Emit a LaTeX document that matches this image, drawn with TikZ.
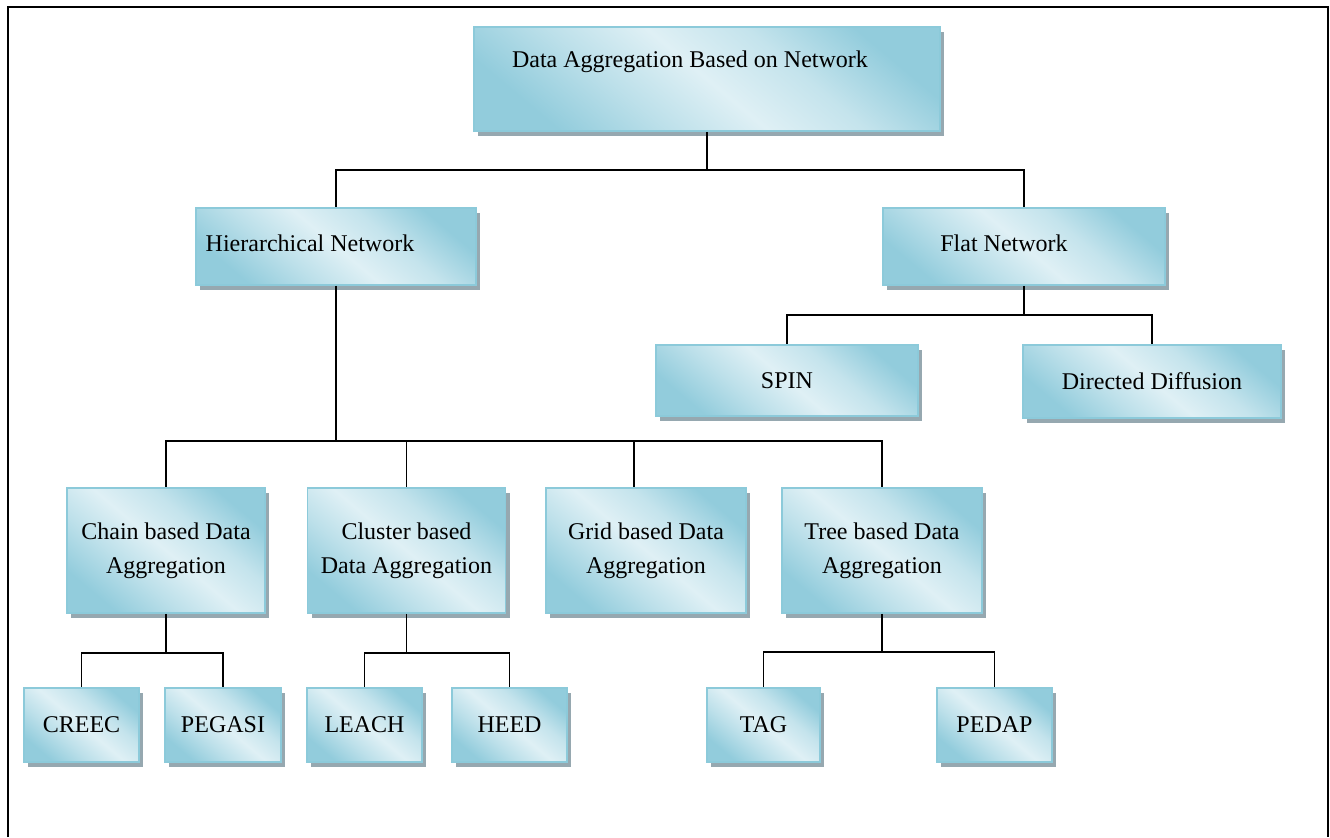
\documentclass[tikz,border=0pt]{standalone}
\usepackage{fontspec}
\setmainfont{Liberation Serif}
\usetikzlibrary{shadows}
\definecolor{boxdark}{RGB}{146,204,220}
\definecolor{boxlight}{RGB}{223,240,245}
\definecolor{boxedge}{RGB}{140,202,218}
\definecolor{shadowgray}{RGB}{150,168,176}
\pgfdeclareverticalshading{boxshade}{100bp}{color(0bp)=(boxdark); color(25bp)=(boxdark);
    color(38bp)=(boxdark!45!boxlight); color(50bp)=(boxlight); color(62bp)=(boxdark!35!boxlight);
    color(75bp)=(boxdark); color(100bp)=(boxdark)}
\tikzstyle{box}=[draw=boxedge, line width=0.8pt, inner sep=0,
                 shading=boxshade, shading angle=-40,
                 drop shadow={shadow xshift=2pt, shadow yshift=-2.6pt, fill=shadowgray, opacity=1},
                 align=center]
\tikzstyle{link}=[line width=0.8pt, black]
\begin{document}
\begin{tikzpicture}[x=0.5pt, y=-0.5pt, font=\fontsize{12}{17}\selectfont]
    \useasboundingbox (0,0) rectangle (1330,837);
    % outer frame
    \draw[line width=1pt] (8,837) -- (8,7) -- (1328,7) -- (1328,837);
    % top levels
    \node[box, minimum width=233pt, minimum height=52pt,
          label={[xshift=-8.5pt, yshift=8.5pt]center:Data Aggregation Based on Network}] (root) at (707,79) {};
    \node[box, minimum width=140pt, minimum height=38.5pt,
          label={[xshift=-13pt, yshift=1.5pt]center:Hierarchical Network}] (hier) at (336,246.5) {};
    \node[box, minimum width=141pt, minimum height=38.5pt,
          label={[xshift=-10pt, yshift=1.5pt]center:Flat Network}] (flat) at (1024,246.5) {};
    % flat network
    \node[box, minimum width=131pt, minimum height=35.5pt] (spin) at (787,380.5) {SPIN};
    \node[box, minimum width=129pt, minimum height=36.5pt] (diffusion) at (1152,381.5) {Directed Diffusion};
    % hierarchical network
    \node[box, minimum width=99pt, minimum height=62.5pt] (chain) at (166,550.5) {Chain based Data\\Aggregation};
    \node[box, minimum width=99pt, minimum height=62.5pt] (cluster) at (406.5,550.5) {Cluster based\\Data Aggregation};
    \node[box, minimum width=100pt, minimum height=62.5pt] (grid) at (646,550.5) {Grid based Data\\Aggregation};
    \node[box, minimum width=100pt, minimum height=62.5pt] (tree) at (882,550.5) {Tree based Data\\Aggregation};
    % leaves
    \node[box, minimum width=57.5pt, minimum height=37pt] (creec) at (81.5,725) {CREEC};
    \node[box, minimum width=58pt, minimum height=37pt] (pegasi) at (223,725) {PEGASI};
    \node[box, minimum width=57.5pt, minimum height=37pt] (leach) at (364.5,725) {LEACH};
    \node[box, minimum width=57.5pt, minimum height=37pt] (heed) at (509.5,725) {HEED};
    \node[box, minimum width=56.5pt, minimum height=37pt] (tag) at (763.5,725) {TAG};
    \node[box, minimum width=57.5pt, minimum height=37pt] (pedap) at (994.5,725) {PEDAP};
    % branch points
    \coordinate (rootbus) at (707,170);
    \coordinate (flatbus) at (1024,315);
    \coordinate (hierbus) at (336,441);
    \coordinate (chainbus) at (166,653);
    \coordinate (clusterbus) at (406.5,653);
    \coordinate (treebus) at (882,652);
    % connectors
    \draw[link] (root.south) -- (rootbus) -| (hier.north);
    \draw[link] (rootbus) -| (flat.north);
    \draw[link] (flat.south) -- (flatbus) -| (spin.north);
    \draw[link] (flatbus) -| (diffusion.north);
    \draw[link] (hier.south) -- (hierbus) -| (chain.north);
    \draw[link] (hierbus) -| (cluster.north);
    \draw[link] (hierbus) -| ([xshift=-6pt]grid.north);
    \draw[link] (hierbus) -| (tree.north);
    \draw[link] (chain.south) -- (chainbus) -| (creec.north);
    \draw[link] (chainbus) -| (pegasi.north);
    \draw[link] (cluster.south) -- (clusterbus) -| (leach.north);
    \draw[link] (clusterbus) -| (heed.north);
    \draw[link] (tree.south) -- (treebus) -| (tag.north);
    \draw[link] (treebus) -| (pedap.north);
\end{tikzpicture}
\end{document}
